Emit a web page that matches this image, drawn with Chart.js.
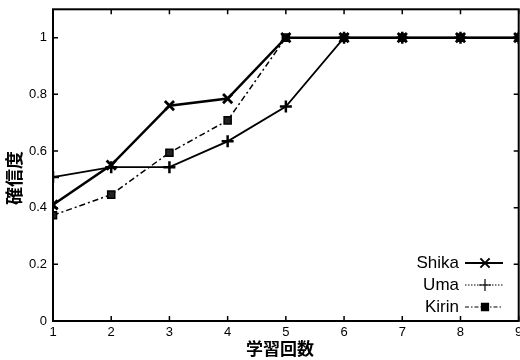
<html lang="ja">
  <head>
    <meta charset="UTF-8" />
    <script src="https://cdn.jsdelivr.net/npm/chart.js"></script>
    <style>
      body { margin: 0; background: #fff; overflow: hidden; }
    </style>
  </head>
  <body>
    <!-- canvas is a bit wider than the window so the last tick label gets cut like the original scan -->
    <canvas id="c" width="528" height="360"></canvas>
    <script>
      // data
      const trials = [1, 2, 3, 4, 5, 6, 7, 8, 9];
      const shika = [0.41, 0.55, 0.76, 0.785, 1, 1, 1, 1, 1];
      const uma = [0.508, 0.543, 0.543, 0.634, 0.757, 1, 1, 1, 1];
      const kirin = [0.373, 0.446, 0.594, 0.708, 1, 1, 1, 1, 1];
      const yTicks = [0, 0.2, 0.4, 0.6, 0.8, 1];
      const xTitle = "学習回数";
      const yTitle = "確信度";

      const pts = (ys) => ys.map((y, i) => ({ x: trials[i], y: y }));

      // draw inward tick marks on all four sides plus the frame
      const frameTicks = {
        id: "frameTicks",
        afterDatasetsDraw(chart) {
          const { ctx, chartArea: a, scales } = chart;
          ctx.save();
          ctx.strokeStyle = "#000";
          ctx.lineWidth = 1.5;
          trials.forEach((t) => {
            const x = scales.x.getPixelForValue(t);
            ctx.beginPath();
            ctx.moveTo(x, a.bottom); ctx.lineTo(x, a.bottom - 5);
            ctx.moveTo(x, a.top); ctx.lineTo(x, a.top + 5);
            ctx.stroke();
          });
          yTicks.forEach((v) => {
            const y = scales.y.getPixelForValue(v);
            ctx.beginPath();
            ctx.moveTo(a.left, y); ctx.lineTo(a.left + 5, y);
            ctx.moveTo(a.right, y); ctx.lineTo(a.right - 5, y);
            ctx.stroke();
          });
          ctx.lineWidth = 2;
          ctx.strokeRect(a.left, a.top, a.right - a.left, a.bottom - a.top);
          ctx.restore();
        },
      };

      // axis titles, placed a little off-centre like the original
      const axisTitles = {
        id: "axisTitles",
        afterDraw(chart) {
          const { ctx } = chart;
          ctx.save();
          ctx.fillStyle = "#000";
          ctx.textAlign = "center";
          ctx.textBaseline = "middle";
          ctx.font = "bold 17px 'Noto Sans CJK JP', sans-serif";
          ctx.fillText(xTitle, 280, 349);
          ctx.translate(14, 178);
          ctx.rotate(-Math.PI / 2);
          ctx.font = "bold 18px 'Noto Sans CJK JP', sans-serif";
          ctx.fillText(yTitle, 0, 0);
          ctx.restore();
        },
      };

      // legend with text on the left and line sample on the right
      const sideLegend = {
        id: "sideLegend",
        afterDraw(chart) {
          const { ctx } = chart;
          const rows = [263, 285, 307];
          ctx.save();
          chart.data.datasets.forEach((ds, i) => {
            const y = rows[i];
            ctx.fillStyle = "#000";
            ctx.font = "17px 'Liberation Sans', Arial, sans-serif";
            ctx.textAlign = "right";
            ctx.textBaseline = "middle";
            ctx.fillText(ds.label, 459, y);
            ctx.strokeStyle = "#000";
            ctx.lineWidth = ds.legendLine;
            ctx.setLineDash(ds.legendDash);
            ctx.beginPath();
            ctx.moveTo(465, y); ctx.lineTo(503, y);
            ctx.stroke();
            ctx.setLineDash([]);
            ctx.fillStyle = "#000";
            Chart.helpers.drawPoint(ctx, {
              pointStyle: ds.pointStyle,
              radius: ds.pointRadius,
              borderWidth: ds.pointBorderWidth,
            }, 485, y);
          });
          ctx.restore();
        },
      };

      new Chart(document.getElementById("c"), {
        type: "line",
        data: {
          datasets: [
            {
              label: "Shika",
              data: pts(shika),
              borderColor: "#000",
              borderWidth: 2.5,
              pointStyle: "crossRot",
              pointRadius: 6.5,
              pointBorderWidth: 2.8,
              pointBorderColor: "#000",
              legendLine: 2,
              legendDash: [],
            },
            {
              label: "Uma",
              data: pts(uma),
              borderColor: "#000",
              borderWidth: 1.8,
              pointStyle: "cross",
              pointRadius: 6,
              pointBorderWidth: 2.5,
              pointBorderColor: "#000",
              legendLine: 1.2,
              legendDash: [1.5, 1.5],
            },
            {
              label: "Kirin",
              data: pts(kirin),
              borderColor: "#000",
              borderWidth: 1.5,
              borderDash: [6, 3, 2, 3],
              pointStyle: "rect",
              pointRadius: 5,
              pointBorderWidth: 1.5,
              pointBorderColor: "#000",
              pointBackgroundColor: "#222",
              legendLine: 1.2,
              legendDash: [4, 2, 1.5, 2],
            },
          ],
        },
        options: {
          responsive: false,
          animation: false,
          layout: { padding: { left: 0, right: 1, top: 9, bottom: 0 } },
          plugins: { legend: { display: false }, tooltip: { enabled: false } },
          elements: { line: { tension: 0 } },
          scales: {
            x: {
              type: "linear",
              min: 1,
              max: 9,
              afterBuildTicks: (s) => { s.ticks = trials.map((v) => ({ value: v })); },
              afterFit: (s) => { s.height = 39; },
              grid: { display: false, drawTicks: false },
              border: { display: false },
              ticks: {
                color: "#000",
                padding: 4,
                font: { family: "'Liberation Sans', Arial, sans-serif", size: 13 },
              },
            },
            y: {
              min: 0,
              max: 1.1,
              afterBuildTicks: (s) => { s.ticks = yTicks.map((v) => ({ value: v })); },
              afterFit: (s) => {
                s.width = 53;
                s.paddingTop = 0;
                s.paddingBottom = 0;
              },
              grid: { display: false, drawTicks: false },
              border: { display: false },
              ticks: {
                color: "#000",
                padding: 6,
                callback: (v) => String(Math.round(v * 10) / 10),
                font: { family: "'Liberation Sans', Arial, sans-serif", size: 13 },
              },
            },
          },
        },
        plugins: [frameTicks, axisTitles, sideLegend],
      });
    </script>
  </body>
</html>
